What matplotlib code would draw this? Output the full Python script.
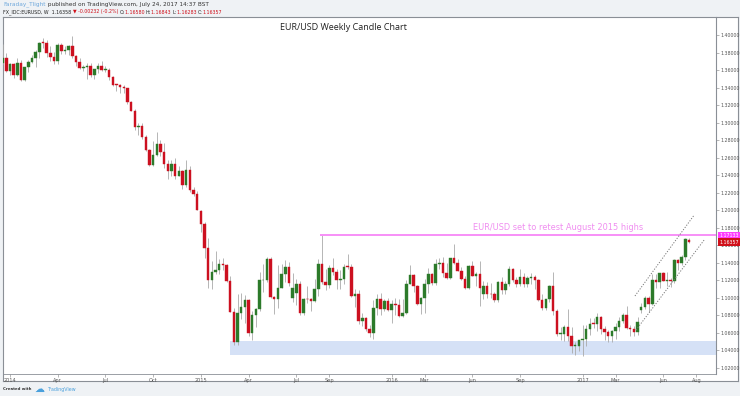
import matplotlib
matplotlib.use('Agg')
import matplotlib.pyplot as plt
import matplotlib.dates as mdates
from matplotlib.patches import Rectangle
import pandas as pd
import numpy as np

# ---------------- data (weekly EUR/USD, weeks starting Monday) ----------------
first_week = '2013-12-23'

opens = [
    1.3676, 1.3743,
    1.3590, 1.3666, 1.3540, 1.3677, 1.3486, 1.3633, 1.3693, 1.3740, 1.3802, 1.3913, 1.3910, 1.3794, 1.3753,
    1.3704, 1.3886, 1.3813, 1.3830, 1.3870, 1.3757, 1.3697, 1.3627, 1.3635, 1.3642, 1.3540, 1.3607, 1.3646,
    1.3604, 1.3606, 1.3524, 1.3429, 1.3428, 1.3411, 1.3399, 1.3240, 1.3131, 1.2951, 1.2960, 1.2836, 1.2686,
    1.2519, 1.2629, 1.2760, 1.2670, 1.2525, 1.2452, 1.2527, 1.2388, 1.2451, 1.2288, 1.2463, 1.2227, 1.2186,
    1.1990, 1.1841, 1.1567, 1.1204, 1.1291, 1.1315, 1.1388, 1.1380, 1.1195, 1.0843, 1.0497, 1.0822, 1.0890,
    1.0970, 1.0601, 1.0808, 1.0873, 1.1198, 1.1202, 1.1446, 1.1014, 1.0985, 1.1114, 1.1267, 1.1350, 1.1000,
    1.1050, 1.1160, 1.0826, 1.0983, 1.0982, 1.0969, 1.1104, 1.1385, 1.1182, 1.1150, 1.1336, 1.1297, 1.1199,
    1.1210, 1.1357, 1.1349, 1.1017, 1.1045, 1.0740, 1.0770, 1.0646, 1.0593, 1.0886, 1.0990, 1.0868, 1.0965,
    1.0862, 1.0927, 1.0915, 1.0796, 1.0831, 1.1157, 1.1259, 1.1130, 1.0931, 1.1003, 1.1154, 1.1268, 1.1166,
    1.1389, 1.1396, 1.1284, 1.1224, 1.1454, 1.1401, 1.1310, 1.1220, 1.1115, 1.1368, 1.1252, 1.1277, 1.1040,
    1.1134, 1.1048, 1.1040, 1.0975, 1.1175, 1.1086, 1.1160, 1.1324, 1.1198, 1.1157, 1.1233, 1.1154, 1.1229,
    1.1241, 1.1201, 1.0971, 1.0885, 1.0981, 1.1140, 1.0850, 1.0587, 1.0589, 1.0664, 1.0561, 1.0450, 1.0452,
    1.0517, 1.0530, 1.0646, 1.0701, 1.0698, 1.0782, 1.0640, 1.0614, 1.0560, 1.0620, 1.0672, 1.0740, 1.0800,
    1.0652, 1.0643, 1.0615, 1.0860, 1.0895, 1.0995, 1.0932, 1.1207, 1.1182, 1.1282, 1.1196, 1.1198, 1.1195,
    1.1426, 1.1400, 1.1471, 1.16580,
]
highs = [
    1.3893, 1.3790,
    1.3686, 1.3676, 1.3740, 1.3714, 1.3640, 1.3717, 1.3773, 1.3825, 1.3915, 1.3967, 1.3944, 1.3876, 1.3810,
    1.3906, 1.3905, 1.3876, 1.3890, 1.3993, 1.3770, 1.3735, 1.3652, 1.3677, 1.3676, 1.3615, 1.3677, 1.3701,
    1.3650, 1.3620, 1.3530, 1.3444, 1.3444, 1.3433, 1.3400, 1.3250, 1.3160, 1.2995, 1.3000, 1.2860, 1.2700,
    1.2791, 1.2887, 1.2802, 1.2765, 1.2575, 1.2577, 1.2600, 1.2500, 1.2457, 1.2570, 1.2505, 1.2265, 1.2223,
    1.2005, 1.1866, 1.1680, 1.1423, 1.1534, 1.1444, 1.1450, 1.1390, 1.1245, 1.0888, 1.1043, 1.1052, 1.1035,
    1.0985, 1.0849, 1.0887, 1.1290, 1.1391, 1.1467, 1.1465, 1.1026, 1.1379, 1.1385, 1.1436, 1.1410, 1.1278,
    1.1215, 1.1197, 1.0999, 1.1129, 1.1000, 1.1215, 1.1440, 1.1714, 1.1332, 1.1372, 1.1460, 1.1331, 1.1318,
    1.1386, 1.1495, 1.1390, 1.1095, 1.1094, 1.0826, 1.0776, 1.0690, 1.0980, 1.1043, 1.1059, 1.0988, 1.0994,
    1.0970, 1.0993, 1.0986, 1.0986, 1.1200, 1.1376, 1.1270, 1.1146, 1.1004, 1.1218, 1.1342, 1.1278, 1.1438,
    1.1454, 1.1465, 1.1398, 1.1460, 1.1616, 1.1445, 1.1349, 1.1250, 1.1375, 1.1416, 1.1298, 1.1424, 1.1187,
    1.1186, 1.1165, 1.1069, 1.1197, 1.1234, 1.1187, 1.1366, 1.1341, 1.1240, 1.1327, 1.1286, 1.1254, 1.1280,
    1.1258, 1.1212, 1.1039, 1.0990, 1.1145, 1.1300, 1.0874, 1.0669, 1.0684, 1.0874, 1.0672, 1.0498, 1.0519,
    1.0684, 1.0685, 1.0775, 1.0775, 1.0829, 1.0789, 1.0680, 1.0636, 1.0630, 1.0714, 1.0780, 1.0830, 1.0906,
    1.0691, 1.0680, 1.0776, 1.0937, 1.1024, 1.1023, 1.1268, 1.1268, 1.1285, 1.1296, 1.1296, 1.1224, 1.1445,
    1.1446, 1.1490, 1.1683, 1.16843,
]
lows = [
    1.3670, 1.3573,
    1.3548, 1.3508, 1.3530, 1.3478, 1.3476, 1.3580, 1.3685, 1.3640, 1.3735, 1.3855, 1.3750, 1.3705, 1.3673,
    1.3672, 1.3780, 1.3782, 1.3775, 1.3742, 1.3648, 1.3615, 1.3586, 1.3503, 1.3524, 1.3503, 1.3570, 1.3594,
    1.3573, 1.3490, 1.3423, 1.3366, 1.3333, 1.3334, 1.3218, 1.3131, 1.2919, 1.2860, 1.2815, 1.2676, 1.2500,
    1.2505, 1.2620, 1.2614, 1.2487, 1.2358, 1.2395, 1.2358, 1.2386, 1.2247, 1.2268, 1.2210, 1.2165, 1.2000,
    1.1754, 1.1460, 1.1114, 1.1098, 1.1270, 1.1269, 1.1315, 1.1175, 1.0839, 1.0462, 1.0458, 1.0762, 1.0713,
    1.0565, 1.0520, 1.0661, 1.0848, 1.1063, 1.1181, 1.1003, 1.0819, 1.0888, 1.1107, 1.1186, 1.1134, 1.0954,
    1.0916, 1.0807, 1.0808, 1.0936, 1.0848, 1.0956, 1.1016, 1.1158, 1.1087, 1.1116, 1.1258, 1.1104, 1.1100,
    1.1155, 1.1329, 1.1009, 1.0896, 1.0705, 1.0674, 1.0617, 1.0557, 1.0524, 1.0802, 1.0804, 1.0848, 1.0851,
    1.0711, 1.0804, 1.0778, 1.0778, 1.0812, 1.1156, 1.1068, 1.0917, 1.0810, 1.0822, 1.1057, 1.1144, 1.1143,
    1.1331, 1.1234, 1.1216, 1.1218, 1.1387, 1.1302, 1.1200, 1.1097, 1.1098, 1.1251, 1.1131, 1.0912, 1.0989,
    1.0998, 1.1000, 1.0952, 1.0951, 1.1046, 1.1044, 1.1135, 1.1181, 1.1122, 1.1135, 1.1120, 1.1123, 1.1160,
    1.1106, 1.0965, 1.0859, 1.0860, 1.0955, 1.0800, 1.0569, 1.0518, 1.0507, 1.0505, 1.0366, 1.0352, 1.0390,
    1.0340, 1.0453, 1.0579, 1.0655, 1.0620, 1.0590, 1.0521, 1.0494, 1.0493, 1.0524, 1.0617, 1.0716, 1.0648,
    1.0569, 1.0569, 1.0570, 1.0821, 1.0871, 1.0838, 1.0918, 1.1110, 1.1110, 1.1196, 1.1131, 1.1119, 1.1172,
    1.1312, 1.1370, 1.1432, 1.16283,
]
closes = [
    1.3743, 1.3590,
    1.3666, 1.3540, 1.3677, 1.3486, 1.3633, 1.3693, 1.3740, 1.3802, 1.3913, 1.3910, 1.3794, 1.3753, 1.3704,
    1.3886, 1.3813, 1.3830, 1.3870, 1.3757, 1.3697, 1.3627, 1.3635, 1.3642, 1.3540, 1.3607, 1.3646, 1.3604,
    1.3606, 1.3524, 1.3429, 1.3428, 1.3411, 1.3399, 1.3240, 1.3131, 1.2951, 1.2960, 1.2836, 1.2686, 1.2519,
    1.2629, 1.2760, 1.2670, 1.2525, 1.2452, 1.2527, 1.2388, 1.2451, 1.2288, 1.2463, 1.2227, 1.2186, 1.2002,
    1.1841, 1.1567, 1.1204, 1.1291, 1.1315, 1.1388, 1.1380, 1.1195, 1.0843, 1.0497, 1.0822, 1.0890, 1.0970,
    1.0601, 1.0808, 1.0873, 1.1198, 1.1202, 1.1446, 1.1014, 1.0985, 1.1114, 1.1267, 1.1350, 1.1166, 1.1109,
    1.1160, 1.0826, 1.0983, 1.0982, 1.0969, 1.1104, 1.1385, 1.1182, 1.1150, 1.1336, 1.1297, 1.1199, 1.1210,
    1.1357, 1.1349, 1.1017, 1.1045, 1.0740, 1.0770, 1.0646, 1.0593, 1.0886, 1.0990, 1.0868, 1.0965, 1.0862,
    1.0927, 1.0915, 1.0796, 1.0831, 1.1157, 1.1259, 1.1130, 1.0931, 1.1003, 1.1154, 1.1268, 1.1166, 1.1389,
    1.1396, 1.1284, 1.1224, 1.1454, 1.1401, 1.1310, 1.1220, 1.1115, 1.1368, 1.1252, 1.1277, 1.1115, 1.1134,
    1.1048, 1.1040, 1.0975, 1.1175, 1.1086, 1.1160, 1.1324, 1.1198, 1.1157, 1.1233, 1.1154, 1.1229, 1.1241,
    1.1201, 1.0971, 1.0885, 1.0981, 1.1140, 1.0850, 1.0587, 1.0589, 1.0664, 1.0561, 1.0450, 1.0452, 1.0517,
    1.0530, 1.0646, 1.0701, 1.0698, 1.0782, 1.0640, 1.0614, 1.0560, 1.0620, 1.0672, 1.0740, 1.0800, 1.0652,
    1.0643, 1.0615, 1.0727, 1.0895, 1.0995, 1.0932, 1.1207, 1.1182, 1.1282, 1.1196, 1.1198, 1.1195, 1.1426,
    1.1400, 1.1471, 1.1666, 1.16357,
]

price_ticks = [1.02, 1.04, 1.06, 1.08, 1.10, 1.12, 1.14, 1.16, 1.18, 1.20, 1.22, 1.24, 1.26, 1.28,
               1.30, 1.32, 1.34, 1.36, 1.38, 1.40]
time_tick_months = ['2014-01', '2014-04', '2014-07', '2014-10', '2015-01', '2015-04', '2015-07', '2015-09',
                    '2016-01', '2016-03', '2016-06', '2016-09', '2017-01', '2017-03', '2017-06', '2017-08']
time_tick_labels = ['2014', 'Apr', 'Jul', 'Oct', '2015', 'Apr', 'Jul', 'Sep',
                    '2016', 'Mar', 'Jun', 'Sep', '2017', 'Mar', 'Jun', 'Aug']

resistance_level = 1.17133
resistance_start = '2015-08-20'
last_price = 1.16357
support_zone = (1.0347, 1.0510)
support_start = '2015-03-02'
channel_upper = (['2017-04-12', '2017-08-03'], [1.1021, 1.1945])
channel_lower = (['2017-04-14', '2017-08-22'], [1.0632, 1.1660])
annotation = 'EUR/USD set to retest August 2015 highs'
annotation_at = ('2016-06-08', 1.1800)

# ---------------- figure ----------------
W, H = 740, 396
fig = plt.figure(figsize=(W / 100, H / 100), dpi=100)
fig.patch.set_facecolor('#eff2f5')
renderer = fig.canvas.get_renderer()

def fx(x):
    return x / W

def fy(y):
    return 1 - y / H

def fit_size(parts, width, family='DejaVu Sans', weight='normal', probe=10):
    total = 0.0
    for s, _ in parts:
        t = fig.text(0, 0, s, fontsize=probe, family=family, weight=weight)
        total += t.get_window_extent(renderer=renderer).width
        t.remove()
    return probe * width / total

def chain(x0, x1, y, parts, family='DejaVu Sans', weight='normal'):
    size = fit_size(parts, x1 - x0, family, weight)
    x = x0
    for s, col in parts:
        t = fig.text(fx(x), fy(y), s, color=col, fontsize=size, ha='left', va='center',
                     weight=weight, family=family)
        x = t.get_window_extent(renderer=renderer).x1

# white chart panel (chart + price scale + time scale)
panel = fig.add_axes([fx(3), fy(381), fx(738) - fx(3), fy(17) - fy(381)])
panel.set_facecolor('white')
panel.set_xticks([]); panel.set_yticks([])
for s in panel.spines.values():
    s.set_color('#8a8f96'); s.set_linewidth(0.8)

ax = fig.add_axes([fx(3), fy(374), fx(716) - fx(3), fy(17) - fy(374)])
ax.set_facecolor('none')

dates = pd.date_range(first_week, periods=len(closes), freq='W-MON')
xd = mdates.date2num(dates)
o = np.array(opens); h = np.array(highs); l = np.array(lows); c = np.array(closes)

up_col = '#2c7a2a'
dn_col = '#cc1020'
wick_col = '#a9a9a9'
cols = np.where(c >= o, up_col, dn_col)
body_bot = np.minimum(o, c)
body_h = np.maximum(np.abs(c - o), 0.0009)

ax.vlines(xd, l, h, colors=wick_col, linewidth=0.6, zorder=2)
ax.bar(xd, body_h, bottom=body_bot, width=4.8, color=cols, edgecolor=cols, linewidth=0.3, zorder=3)

# axis scale
ref = mdates.date2num(pd.Timestamp('2014-01-06'))
px_per_day = 3.67 / 7
ax.set_xlim(ref + (3 - 10) / px_per_day, ref + (716 - 10) / px_per_day)
ax.set_ylim(1.40 - (374 - 35) / 876, 1.40 + (35 - 17) / 876)
xmax = ax.get_xlim()[1]

# support zone
s0 = mdates.date2num(pd.Timestamp(support_start))
ax.add_patch(Rectangle((s0, support_zone[0]), xmax - s0, support_zone[1] - support_zone[0],
                       facecolor='#d5e1f6', edgecolor='none', zorder=1))

# resistance line + annotation
r0 = mdates.date2num(pd.Timestamp(resistance_start))
ax.hlines(resistance_level, r0, xmax, colors='#f78ff7', linewidth=1.4, zorder=4)
ann_size = fit_size([(annotation, None)], 169)
ax.text(mdates.date2num(pd.Timestamp(annotation_at[0])), annotation_at[1], annotation,
        color='#f08ef0', fontsize=ann_size, ha='left', va='center', family='DejaVu Sans', zorder=5)

# channel lines
for xs, ys in (channel_upper, channel_lower):
    ax.plot(mdates.date2num(pd.to_datetime(xs)), ys, color='#777777', linewidth=0.7,
            linestyle=(0, (1.2, 1.6)), zorder=4)

# price scale on right
ax.yaxis.tick_right()
ax.set_yticks(price_ticks)
ax.set_yticklabels(['%.5f' % p for p in price_ticks])
ax.tick_params(axis='y', direction='out', length=2, width=0.5, colors='#9a9a9a', labelsize=3.4,
               labelcolor='#555555', pad=1.2)

# time scale
tick_dates = []
for m in time_tick_months:
    d = pd.Timestamp(m + '-01')
    while d.weekday() != 0:
        d += pd.Timedelta(days=1)
    tick_dates.append(mdates.date2num(d))
ax.set_xticks(tick_dates)
ax.set_xticklabels(time_tick_labels)
ax.tick_params(axis='x', direction='out', length=2, width=0.5, colors='#9a9a9a', labelsize=3.6,
               labelcolor='#555555', pad=0.6)

for side in ['top', 'left']:
    ax.spines[side].set_visible(False)
ax.spines['right'].set_color('#8a8f96'); ax.spines['right'].set_linewidth(0.8)
ax.spines['bottom'].set_color('#8a8f96'); ax.spines['bottom'].set_linewidth(0.6)

# price label boxes
for val, bg in ((resistance_level, '#ff3cff'), (last_price, '#d0101a')):
    ax.annotate('%.5f' % val, xy=(1.0, val), xycoords=('axes fraction', 'data'),
                xytext=(2.5, 0), textcoords='offset points', ha='left', va='center',
                fontsize=3.4, color='white', annotation_clip=False,
                bbox=dict(boxstyle='square,pad=0.25', fc=bg, ec='none'))

# title
chain(280, 407, 27, [('EUR/USD Weekly Candle Chart', '#222222')], family='Open Sans')

# header lines
chain(3, 205, 4.5, [('Faraday_Tlight', '#6fa8dc'),
                    (' published on TradingView.com, July 24, 2017 14:37 BST', '#333333')])
chain(3, 222, 12, [('FX_IDC:EURUSD, W  1.16358 ', '#222222'), ('\u25bc -0.00232 (-0.2%) ', '#d0101a'),
                   ('O:', '#222222'), ('1.16580 ', '#d0101a'), ('H:', '#222222'), ('1.16843 ', '#d0101a'),
                   ('L:', '#222222'), ('1.16283 ', '#d0101a'), ('C:', '#222222'), ('1.16357', '#d0101a')])

# footer
chain(3, 31, 389, [('Created with', '#333333')], weight='bold')
chain(35, 45, 388.5, [('\u2601', '#4aa0dc')])
chain(48, 77, 389, [('TradingView', '#4aa0dc')])

fig.savefig('out.png', dpi=100, facecolor=fig.get_facecolor())
